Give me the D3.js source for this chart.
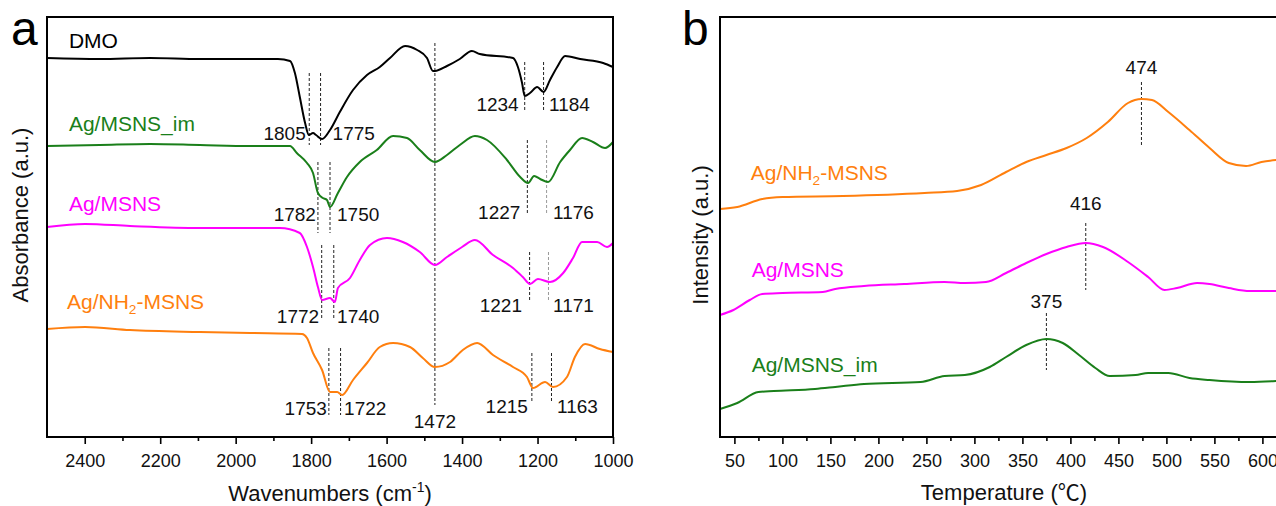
<!DOCTYPE html>
<html>
<head>
<meta charset="utf-8">
<script src="https://cdn.jsdelivr.net/npm/d3@7"></script>
<style>
  body { margin: 0; background: #fff; }
  svg { display: block; font-family: "Liberation Sans", Arial, sans-serif; }
</style>
</head>
<body>
<svg id="chart" width="1276" height="506"></svg>
<script>
// ---- data: panel a, FTIR (wavenumber cm-1, absorbance a.u. with offsets) ----
const dmo = [[2500,379],[2360,378],[2227,379],[2095,378],[1962,378],[1888,378],[1856,376],[1843,364],[1830,340],
  [1816,314],[1806,302],[1795,304],[1787,302],[1771,298],[1750,307],[1724,325],[1689,347],[1652,362],[1618,370],
  [1591,379],[1551,391],[1519,387],[1493,379],[1477,366],[1472,366],[1440,371],[1406,378],[1374,386],[1353,383],
  [1265,379],[1252,370],[1241,354],[1234,341],[1220,344],[1201,350],[1184,345],[1167,357],[1148,370],[1127,381],
  [1087,378],[1026,374],[1000,370]];
const agMsnsIm = [[2500,291],[2360,292],[2227,293],[2095,292],[1962,291],[1856,291],[1838,284],[1811,274],[1795,264],
  [1782,244],[1769,239],[1758,237],[1750,230],[1729,244],[1705,260],[1671,275],[1626,287],[1583,301],[1546,299],
  [1512,287],[1472,275],[1440,282],[1406,292],[1366,301],[1334,297],[1281,277],[1246,260],[1225,254],[1209,261],
  [1193,258],[1172,255],[1140,275],[1114,287],[1082,299],[1053,295],[1021,289],[1000,295]];
const agMsns = [[2500,210],[2399,213],[2280,211],[2095,209],[1883,209],[1830,204],[1811,190],[1795,170],[1782,150],
  [1771,137],[1750,139],[1737,135],[1729,149],[1697,159],[1671,177],[1644,192],[1599,199],[1557,195],[1512,185],
  [1472,172],[1440,180],[1400,190],[1366,197],[1318,182],[1265,169],[1239,160],[1220,153],[1199,158],[1167,155],
  [1132,164],[1106,179],[1082,195],[1042,195],[1016,190],[1000,194]];
const agNh2Msns = [[2500,108],[2399,110],[2280,107],[2095,105],[1962,104],[1824,103],[1811,99],[1795,84],[1771,67],
  [1750,45],[1731,45],[1718,42],[1689,57],[1652,74],[1618,90],[1583,94],[1538,90],[1504,79],[1472,70],[1432,75],
  [1398,87],[1360,94],[1318,82],[1265,70],[1228,60],[1212,49],[1180,55],[1159,50],[1122,60],[1101,80],[1074,93],
  [1035,88],[1000,85]];

// peak wavenumbers marked in panel a
const dmoPeaks = [1805, 1775, 1234, 1184];
const imPeaks = [1782, 1750, 1227, 1176];
const msnsPeaks = [1772, 1740, 1221, 1171];
const nh2Peaks = [1753, 1722, 1215, 1163];
const sharedPeak = 1472;

// ---- data: panel b, H2-TPR (temperature C, intensity a.u. with offsets) ----
const tprNh2 = [[35,228],[53,230],[79,238],[100,240],[163,241],[248,244],[282,246],[307,252],[333,265],[354,275],
  [375,282],[396,289],[417,299],[439,315],[460,334],[474,338],[485,337],[502,325],[524,307],[545,289],[565,274],
  [583,271],[599,275],[615,277]];
const tprMsns = [[35,122],[49,127],[66,137],[79,143],[100,144],[142,145],[155,148],[185,151],[227,153],[269,155],
  [290,154],[312,155],[333,164],[354,174],[375,183],[396,190],[416,194],[434,190],[460,175],[481,160],[498,147],
  [511,149],[532,154],[545,153],[565,149],[587,146],[615,146]];
const tprIm = [[35,28],[53,34],[75,45],[91,46],[134,48],[155,50],[185,53],[244,55],[269,61],[290,62],[316,70],
  [333,80],[354,92],[375,98],[392,94],[409,82],[426,69],[441,61],[468,62],[481,64],[502,64],[524,59],[545,57],
  [587,55],[615,56]];
const tprPeaks = [474, 416, 375];

const waveTicks = [2400, 2200, 2000, 1800, 1600, 1400, 1200, 1000];
const waveMinor = [2300, 2100, 1900, 1700, 1500, 1300, 1100];
const tempTicks = [50, 100, 150, 200, 250, 300, 350, 400, 450, 500, 550, 600];
const tempMinor = [75, 125, 175, 225, 275, 325, 375, 425, 475, 525, 575];

// ---- layout ----
const colors = { dmo: "#000000", im: "#1a7f1a", msns: "#ff00ff", nh2: "#ff7f0e" };
const plotTop = 17, plotBottom = 437;
const svg = d3.select("#chart");

function frameAxes(g, x, major, minor, fmt) {
  g.append("g").attr("transform", `translate(0,${plotBottom})`)
    .call(d3.axisBottom(x).tickValues(major).tickSize(7).tickPadding(10).tickFormat(fmt))
    .call(a => a.select(".domain").remove())
    .call(a => a.selectAll("line").attr("stroke", "#000").attr("stroke-width", 1.6))
    .call(a => a.selectAll("text").attr("font-size", 18).attr("fill", "#111")
      .attr("font-family", "Liberation Sans, Arial, sans-serif"));
  g.append("g").attr("transform", `translate(0,${plotBottom})`)
    .call(d3.axisBottom(x).tickValues(minor).tickSize(4).tickFormat(""))
    .call(a => a.select(".domain").remove())
    .call(a => a.selectAll("line").attr("stroke", "#000").attr("stroke-width", 1.6));
  const [x0, x1] = x.range();
  g.append("rect").attr("x", x0).attr("y", plotTop).attr("width", x1 - x0).attr("height", plotBottom - plotTop)
    .attr("fill", "none").attr("stroke", "#000").attr("stroke-width", 2);
}

function drawSeries(g, x, y, data, color) {
  const line = d3.line().x(d => x(d[0])).y(d => y(d[1])).curve(d3.curveMonotoneX);
  g.append("path").datum(data).attr("d", line).attr("fill", "none")
    .attr("stroke", color).attr("stroke-width", 2).attr("stroke-linejoin", "round");
}

function dashLine(g, x, y, v, y0, y1, color) {
  g.append("line").attr("x1", x(v)).attr("x2", x(v)).attr("y1", y(y0)).attr("y2", y(y1))
    .attr("stroke", color || "#222").attr("stroke-width", 1).attr("stroke-dasharray", "3,2");
}

function label(g, px, py, text, anchor, size, color) {
  return g.append("text").attr("x", px).attr("y", py).attr("text-anchor", anchor || "start")
    .attr("font-size", size).attr("fill", color || "#111").text(text);
}

function nh2Label(g, px, py, size, color) {
  const t = g.append("text").attr("x", px).attr("y", py).attr("font-size", size).attr("fill", color);
  t.append("tspan").text("Ag/NH");
  t.append("tspan").attr("font-size", size * 0.65).attr("dy", 5).text("2");
  t.append("tspan").attr("dy", -5).text("-MSNS");
}

// ---- panel a ----
const xa = d3.scaleLinear().domain([2500, 1000]).range([47, 613]);
const ya = d3.scaleLinear().domain([0, 420]).range([plotBottom, plotTop]);
const ga = svg.append("g");

// peak marker layout: [peaks, line top, line bottom, label baseline, label offsets]
const aMarks = [
  [dmoPeaks.slice(0, 2), 364, 292, 297, [-3.5, 12]],
  [dmoPeaks.slice(2), 375, 327, 326, [-6, 5.5]],
  [imPeaks.slice(0, 2), 275, 204, 216, [-2, 7]],
  [imPeaks.slice(2), 297, 222, 218, [-7, 6.5]],
  [msnsPeaks.slice(0, 2), 192, 119, 114, [-2.6, 3.3]],
  [msnsPeaks.slice(2), 185, 135, 125, [-7.6, 4.5]],
  [nh2Peaks.slice(0, 2), 89, 22, 22, [-2, 3.5]],
  [nh2Peaks.slice(2), 84, 35, 24, [-4, 5.5]]
];
aMarks.forEach(([pk, y0, y1, yl, off]) => {
  pk.forEach((p, i) => {
    const faint = (p === 1176 || p === 1171);
    dashLine(ga, xa, ya, p, y0, y1, faint ? "#999" : "#222");
    label(ga, xa(p) + off[i], ya(yl), String(p), i === 0 ? "end" : "start", 19);
  });
});
dashLine(ga, xa, ya, sharedPeak, 394, 32);
label(ga, xa(sharedPeak), ya(9), String(sharedPeak), "middle", 19);

drawSeries(ga, xa, ya, dmo, colors.dmo);
drawSeries(ga, xa, ya, agMsnsIm, colors.im);
drawSeries(ga, xa, ya, agMsns, colors.msns);
drawSeries(ga, xa, ya, agNh2Msns, colors.nh2);
frameAxes(ga, xa, waveTicks, waveMinor, d3.format("d"));

label(ga, xa(2442), ya(389), "DMO", "start", 21, colors.dmo);
label(ga, xa(2442), ya(306), "Ag/MSNS_im", "start", 21, colors.im);
label(ga, xa(2442), ya(226), "Ag/MSNS", "start", 21, colors.msns);
nh2Label(ga, xa(2447), ya(128), 21, colors.nh2);

const xta = ga.append("text").attr("x", 330).attr("y", 501).attr("text-anchor", "middle")
  .attr("font-size", 22).attr("fill", "#111");
xta.append("tspan").text("Wavenumbers (cm");
xta.append("tspan").attr("font-size", 14).attr("dy", -9).text("-1");
xta.append("tspan").attr("dy", 9).text(")");
ga.append("text").attr("transform", "translate(28,215) rotate(-90)").attr("text-anchor", "middle")
  .attr("font-size", 22).attr("fill", "#111").text("Absorbance (a.u.)");
label(ga, 11, 45, "a", "start", 48, "#000");

// ---- panel b ----
const xb = d3.scaleLinear().domain([35, 620]).range([720, 1281.6]);
const yb = d3.scaleLinear().domain([0, 420]).range([plotBottom, plotTop]);
const gb = svg.append("g");

const bMarks = [[355, 290, 363], [214, 147, 227], [124, 67, 129]];
tprPeaks.forEach((p, i) => {
  dashLine(gb, xb, yb, p, bMarks[i][0], bMarks[i][1]);
  label(gb, xb(p), yb(bMarks[i][2]), String(p), "middle", 19);
});

drawSeries(gb, xb, yb, tprNh2, colors.nh2);
drawSeries(gb, xb, yb, tprMsns, colors.msns);
drawSeries(gb, xb, yb, tprIm, colors.im);
frameAxes(gb, xb, tempTicks, tempMinor, d3.format("d"));

nh2Label(gb, xb(67), yb(257), 21, colors.nh2);
label(gb, xb(68), yb(160), "Ag/MSNS", "start", 21, colors.msns);
label(gb, xb(68), yb(65), "Ag/MSNS_im", "start", 21, colors.im);

const xtb = gb.append("text").attr("x", 1004).attr("y", 500).attr("text-anchor", "middle")
  .attr("font-size", 22).attr("fill", "#111");
xtb.append("tspan").text("Temperature (");
xtb.append("tspan").attr("font-family", "Noto Sans CJK SC").text("\u2103");
xtb.append("tspan").text(")");
gb.append("text").attr("transform", "translate(708,235) rotate(-90)").attr("text-anchor", "middle")
  .attr("font-size", 22).attr("fill", "#111").text("Intensity (a.u.)");
label(gb, 682, 45, "b", "start", 48, "#000");
</script>
</body>
</html>
